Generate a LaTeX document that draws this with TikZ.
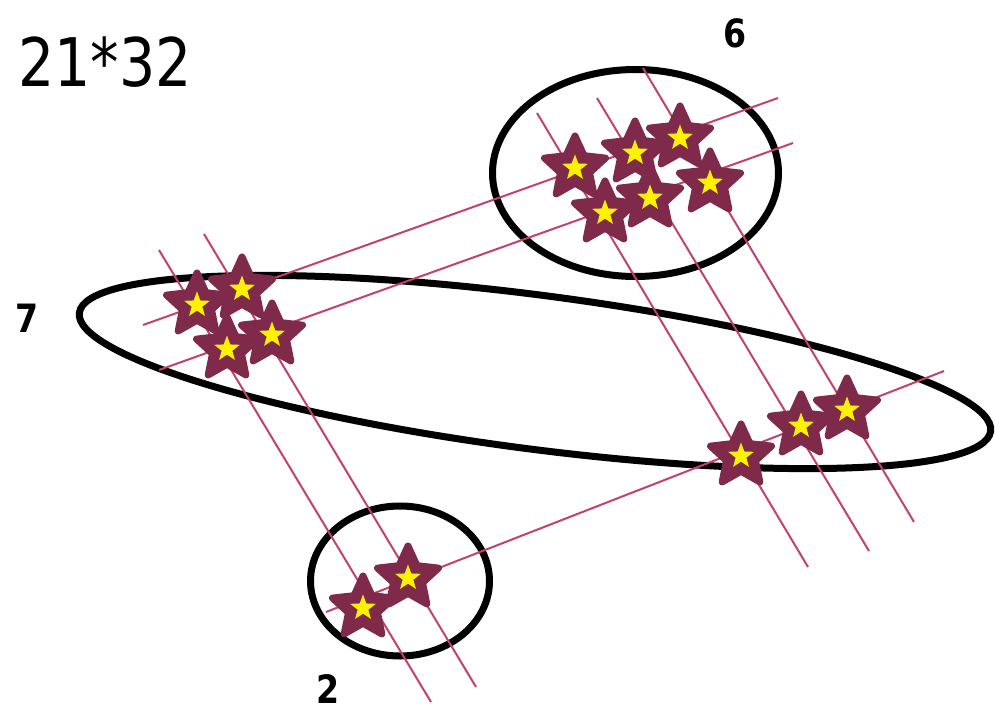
\documentclass[tikz,border=0pt]{standalone}
\usepackage{fontspec}
\setmainfont{DejaVu Sans}
\usetikzlibrary{shapes.geometric}
\definecolor{starred}{RGB}{127,42,75}
\definecolor{rodred}{RGB}{196,64,110}

\begin{document}
\begin{tikzpicture}[
    x=1pt, y=-1pt,
    group/.style={draw=black, line width=7pt},
    rod/.style={draw=rodred, line width=2pt},
    hit/.style={star, star points=5, star point ratio=2.1, minimum size=64pt, inner sep=0pt, fill=starred, draw=starred, line width=7pt, line join=round},
    core/.style={star, star points=5, star point ratio=2.4, minimum size=27pt, inner sep=0pt, fill=yellow},
    count/.style={font=\fontsize{39}{41}\selectfont\bfseries, inner sep=0pt}
]
    \useasboundingbox (0,0) rectangle (995,714);

    % --- Groups ---
    \draw[group] (635.5,173) ellipse [x radius=143pt, y radius=103.5pt];
    \draw[group, rotate around={-7.4:(535,372)}] (535,372) ellipse [x radius=459.5pt, y radius=77pt];
    \draw[group] (400,581) ellipse [x radius=89.5pt, y radius=75pt];

    % --- Lines of 21 ---
    \coordinate (a1) at (143,325);  \coordinate (a2) at (778,98);
    \coordinate (b1) at (159,370);  \coordinate (b2) at (793,143);
    \coordinate (c1) at (326,612);  \coordinate (c2) at (944,371);

    % --- Lines of 32 ---
    \coordinate (r11) at (537,113); \coordinate (r12) at (808,567);
    \coordinate (r21) at (597,98);  \coordinate (r22) at (869,551);
    \coordinate (r31) at (643,68);  \coordinate (r32) at (914,522);
    \coordinate (l11) at (159,250); \coordinate (l12) at (431,702);
    \coordinate (l21) at (204,234); \coordinate (l22) at (476,687);

    \foreach \s in {a,b,c} {
        \draw[rod] (\s1) -- (\s2);
    }
    \foreach \s in {r1,r2,r3,l1,l2} {
        \draw[rod] (\s1) -- (\s2);
    }

    % --- Crossings ---
    \foreach \n/\p in {1/{575,168}, 2/{635,153}, 3/{680,138}, 4/{605,213}, 5/{650,198},
                       6/{710,183}, 7/{197,305}, 8/{242,289}, 9/{227,349}, 10/{272,335},
                       11/{741,456}, 12/{801,426}, 13/{847,410}, 14/{363,608}, 15/{408,578}} {
        \node[hit] (x\n) at (\p) {};
        \node[core] (y\n) at (x\n) {};
    }

    % --- Labels ---
    \node[font=\fontsize{67}{70}\selectfont, inner sep=0pt] (task) at (105,62) {\scalebox{0.85}[1]{21*32}};
    \node[count] (six) at (735,33) {\scalebox{0.85}[1]{6}};
    \node[count] (seven) at (27,318) {\scalebox{0.85}[1]{7}};
    \node[count] (two) at (328,689) {\scalebox{0.85}[1]{2}};
\end{tikzpicture}
\end{document}
